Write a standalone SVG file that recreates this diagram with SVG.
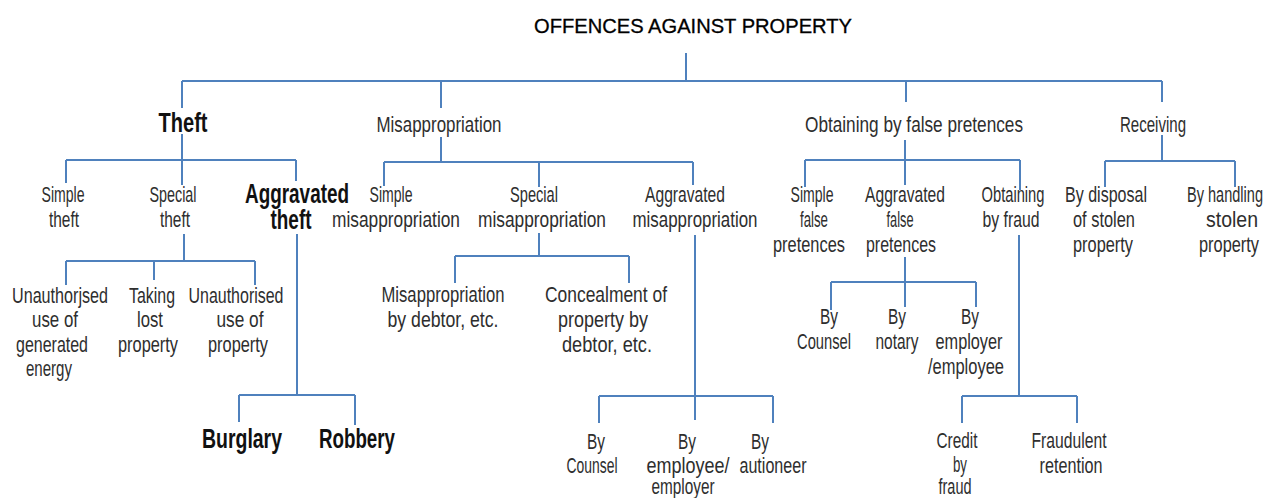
<svg xmlns="http://www.w3.org/2000/svg" width="1269" height="498" viewBox="0 0 1269 498">
<style>
text{text-anchor:middle;font-family:"Liberation Sans",Arial,sans-serif}
.r{font-size:22px;fill:#2e2e2e}
.b{font-size:27px;font-weight:bold;fill:#111}
.h{font-size:21px;fill:#000;stroke:#000;stroke-width:0.3}
#connectors path{fill:none;stroke:#4f81bd;stroke-width:2}
</style>
<rect width="1269" height="498" fill="#fff"/>
<g id="connectors">
<path d="M686 53V81M182 81H1162M182 81V108M441 81V108M906 81V102M1162 81V102"/>
<path d="M182 134V160M66 160H296M66 160V183M182 160V185M296 160V181"/>
<path d="M184 234V261M66 261H255M66 261V285M154 261V280M255 261V285"/>
<path d="M297 234V395M239 395H355M239 395V422M355 395V425"/>
<path d="M441 137V162M384 162H693M384 162V186M539 162V187M693 162V185"/>
<path d="M539 233V256M455 256H629M455 256V283M629 256V283"/>
<path d="M695 235V396M599 396H773M599 396V423M695 396V420M773 396V423"/>
<path d="M905 140V160M805 160H1020M805 160V187M905 160V185M1020 160V190"/>
<path d="M905 257V282M831 282H976M831 282V310M905 282V307M976 282V307"/>
<path d="M1019 235V396M962 396H1077M962 396V423M1077 396V423"/>
<path d="M1162 135V161M1105 161H1235M1105 161V187M1235 161V187"/>
</g>
<g id="root"><text class="h" x="693" y="33" textLength="318" lengthAdjust="spacingAndGlyphs">OFFENCES AGAINST PROPERTY</text></g>
<g id="theft"><text class="b" x="183" y="132" textLength="49" lengthAdjust="spacingAndGlyphs">Theft</text></g>
<g id="misappropriation"><text class="r" x="439" y="132" textLength="125" lengthAdjust="spacingAndGlyphs">Misappropriation</text></g>
<g id="obtaining"><text class="r" x="914" y="132" textLength="218" lengthAdjust="spacingAndGlyphs">Obtaining  by false  pretences</text></g>
<g id="receiving"><text class="r" x="1153" y="132" textLength="66" lengthAdjust="spacingAndGlyphs">Receiving</text></g>
<g id="simple-theft"><text class="r" x="63" y="202" textLength="43" lengthAdjust="spacingAndGlyphs">Simple</text><text class="r" x="64" y="227" textLength="30" lengthAdjust="spacingAndGlyphs">theft</text></g>
<g id="special-theft"><text class="r" x="173" y="202" textLength="47" lengthAdjust="spacingAndGlyphs">Special</text><text class="r" x="175" y="227" textLength="30" lengthAdjust="spacingAndGlyphs">theft</text></g>
<g id="aggravated-theft"><text class="b" x="297" y="203" textLength="104" lengthAdjust="spacingAndGlyphs">Aggravated</text><text class="b" x="291" y="229" textLength="41" lengthAdjust="spacingAndGlyphs">theft</text></g>
<g id="unauth-energy"><text class="r" x="60" y="303" textLength="96" lengthAdjust="spacingAndGlyphs">Unauthorjsed</text><text class="r" x="55" y="327" textLength="46" lengthAdjust="spacingAndGlyphs">use of</text><text class="r" x="52" y="352" textLength="72" lengthAdjust="spacingAndGlyphs">generated</text><text class="r" x="49" y="376" textLength="46" lengthAdjust="spacingAndGlyphs">energy</text></g>
<g id="taking-lost"><text class="r" x="152" y="303" textLength="46" lengthAdjust="spacingAndGlyphs">Taking</text><text class="r" x="150" y="327" textLength="26" lengthAdjust="spacingAndGlyphs">lost</text><text class="r" x="148" y="352" textLength="60" lengthAdjust="spacingAndGlyphs">property</text></g>
<g id="unauth-property"><text class="r" x="236" y="303" textLength="95" lengthAdjust="spacingAndGlyphs">Unauthorised</text><text class="r" x="240" y="327" textLength="47" lengthAdjust="spacingAndGlyphs">use of</text><text class="r" x="238" y="352" textLength="60" lengthAdjust="spacingAndGlyphs">property</text></g>
<g id="burglary"><text class="b" x="242" y="448" textLength="80" lengthAdjust="spacingAndGlyphs">Burglary</text></g>
<g id="robbery"><text class="b" x="357" y="448" textLength="76" lengthAdjust="spacingAndGlyphs">Robbery</text></g>
<g id="simple-misapp"><text class="r" x="391" y="202" textLength="43" lengthAdjust="spacingAndGlyphs">Simple</text><text class="r" x="396" y="227" textLength="128" lengthAdjust="spacingAndGlyphs">misappropriation</text></g>
<g id="special-misapp"><text class="r" x="534" y="202" textLength="48" lengthAdjust="spacingAndGlyphs">Special</text><text class="r" x="542" y="227" textLength="128" lengthAdjust="spacingAndGlyphs">misappropriation</text></g>
<g id="aggravated-misapp"><text class="r" x="685" y="202" textLength="80" lengthAdjust="spacingAndGlyphs">Aggravated</text><text class="r" x="695" y="227" textLength="125" lengthAdjust="spacingAndGlyphs">misappropriation</text></g>
<g id="misapp-debtor"><text class="r" x="443" y="302" textLength="123" lengthAdjust="spacingAndGlyphs">Misappropriation</text><text class="r" x="443" y="327" textLength="111" lengthAdjust="spacingAndGlyphs">by debtor, etc.</text></g>
<g id="concealment"><text class="r" x="606" y="302" textLength="122" lengthAdjust="spacingAndGlyphs">Concealment  of</text><text class="r" x="603" y="327" textLength="90" lengthAdjust="spacingAndGlyphs">property  by</text><text class="r" x="607" y="352" textLength="90" lengthAdjust="spacingAndGlyphs">debtor,  etc.</text></g>
<g id="misapp-counsel"><text class="r" x="596" y="449" textLength="18" lengthAdjust="spacingAndGlyphs">By</text><text class="r" x="592" y="473" textLength="51" lengthAdjust="spacingAndGlyphs">Counsel</text></g>
<g id="misapp-employee"><text class="r" x="687" y="449" textLength="18" lengthAdjust="spacingAndGlyphs">By</text><text class="r" x="688" y="473" textLength="83" lengthAdjust="spacingAndGlyphs">employee/</text><text class="r" x="683" y="494" textLength="63" lengthAdjust="spacingAndGlyphs">employer</text></g>
<g id="misapp-auctioneer"><text class="r" x="760" y="449" textLength="18" lengthAdjust="spacingAndGlyphs">By</text><text class="r" x="773" y="473" textLength="67" lengthAdjust="spacingAndGlyphs">autioneer</text></g>
<g id="simple-fp"><text class="r" x="812" y="202" textLength="43" lengthAdjust="spacingAndGlyphs">Simple</text><text class="r" x="814" y="227" textLength="28" lengthAdjust="spacingAndGlyphs">false</text><text class="r" x="809" y="252" textLength="72" lengthAdjust="spacingAndGlyphs">pretences</text></g>
<g id="aggravated-fp"><text class="r" x="905" y="202" textLength="80" lengthAdjust="spacingAndGlyphs">Aggravated</text><text class="r" x="900" y="227" textLength="27" lengthAdjust="spacingAndGlyphs">false</text><text class="r" x="901" y="252" textLength="70" lengthAdjust="spacingAndGlyphs">pretences</text></g>
<g id="obtaining-fraud"><text class="r" x="1013" y="202" textLength="63" lengthAdjust="spacingAndGlyphs">Obtaining</text><text class="r" x="1011" y="227" textLength="57" lengthAdjust="spacingAndGlyphs">by fraud</text></g>
<g id="disposal"><text class="r" x="1106" y="202" textLength="82" lengthAdjust="spacingAndGlyphs">By disposal</text><text class="r" x="1104" y="227" textLength="62" lengthAdjust="spacingAndGlyphs">of stolen</text><text class="r" x="1103" y="252" textLength="60" lengthAdjust="spacingAndGlyphs">property</text></g>
<g id="handling"><text class="r" x="1225" y="202" textLength="76" lengthAdjust="spacingAndGlyphs">By handling</text><text class="r" x="1232" y="227" textLength="52" lengthAdjust="spacingAndGlyphs">stolen</text><text class="r" x="1229" y="252" textLength="60" lengthAdjust="spacingAndGlyphs">property</text></g>
<g id="fp-counsel"><text class="r" x="829" y="324" textLength="18" lengthAdjust="spacingAndGlyphs">By</text><text class="r" x="824" y="349" textLength="54" lengthAdjust="spacingAndGlyphs">Counsel</text></g>
<g id="fp-notary"><text class="r" x="897" y="324" textLength="18" lengthAdjust="spacingAndGlyphs">By</text><text class="r" x="897" y="349" textLength="43" lengthAdjust="spacingAndGlyphs">notary</text></g>
<g id="fp-employer"><text class="r" x="970" y="324" textLength="18" lengthAdjust="spacingAndGlyphs">By</text><text class="r" x="969" y="349" textLength="67" lengthAdjust="spacingAndGlyphs">employer</text><text class="r" x="966" y="374" textLength="76" lengthAdjust="spacingAndGlyphs">/employee</text></g>
<g id="credit-fraud"><text class="r" x="957" y="448" textLength="41" lengthAdjust="spacingAndGlyphs">Credit</text><text class="r" x="960" y="472" textLength="14" lengthAdjust="spacingAndGlyphs">by</text><text class="r" x="955" y="494" textLength="33" lengthAdjust="spacingAndGlyphs">fraud</text></g>
<g id="fraudulent-retention"><text class="r" x="1069" y="448" textLength="75" lengthAdjust="spacingAndGlyphs">Fraudulent</text><text class="r" x="1071" y="473" textLength="63" lengthAdjust="spacingAndGlyphs">retention</text></g>
</svg>
